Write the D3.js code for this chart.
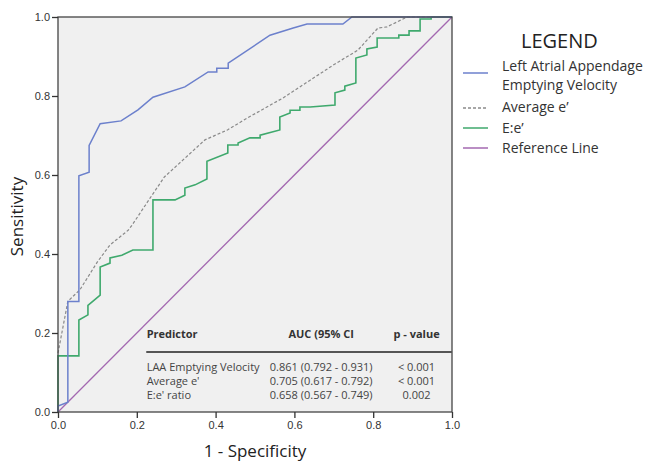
<!DOCTYPE html>
<html>
<head>
<meta charset="utf-8">
<script src="https://cdn.jsdelivr.net/npm/d3@7"></script>
<style>
  body { margin: 0; background: #fff; }
  svg text { font-family: "Open Sans", "Liberation Sans", sans-serif; }
</style>
</head>
<body>
<div id="canvas"></div>
<script>
"use strict";

// ROC points: [1 - specificity, sensitivity]
const laaPoints = [
  [0, 0], [0, 0.015], [0.025, 0.025], [0.025, 0.28], [0.053, 0.28], [0.053, 0.598],
  [0.079, 0.607], [0.079, 0.675], [0.107, 0.73], [0.16, 0.737], [0.203, 0.765],
  [0.241, 0.797], [0.322, 0.823], [0.381, 0.861], [0.403, 0.861], [0.403, 0.87],
  [0.432, 0.87], [0.432, 0.883], [0.538, 0.954], [0.597, 0.972], [0.632, 0.982],
  [0.723, 0.982], [0.746, 1.0], [1, 1]
];
const avgEPoints = [
  [0, 0.149], [0.025, 0.28], [0.056, 0.31], [0.10, 0.38], [0.132, 0.423], [0.178, 0.46],
  [0.188, 0.473], [0.234, 0.542], [0.27, 0.595], [0.373, 0.689], [0.43, 0.714],
  [0.48, 0.744], [0.571, 0.795], [0.64, 0.84], [0.698, 0.878], [0.761, 0.916],
  [0.812, 0.972], [0.835, 0.975], [0.886, 1.0], [1, 1]
];
const eRatioPoints = [
  [0, 0], [0, 0.142], [0.053, 0.142], [0.053, 0.233], [0.076, 0.246], [0.076, 0.27],
  [0.107, 0.296], [0.107, 0.367], [0.132, 0.377], [0.132, 0.39], [0.162, 0.397],
  [0.19, 0.41], [0.241, 0.41], [0.241, 0.537], [0.297, 0.537], [0.322, 0.549],
  [0.322, 0.567], [0.348, 0.575], [0.378, 0.59], [0.378, 0.635], [0.431, 0.656],
  [0.431, 0.676], [0.457, 0.676], [0.457, 0.681], [0.487, 0.694], [0.513, 0.694],
  [0.513, 0.701], [0.563, 0.714], [0.563, 0.747], [0.589, 0.757], [0.589, 0.764],
  [0.614, 0.764], [0.614, 0.772], [0.64, 0.772], [0.703, 0.777], [0.703, 0.808],
  [0.728, 0.815], [0.728, 0.825], [0.756, 0.833], [0.756, 0.896], [0.784, 0.904],
  [0.784, 0.919], [0.81, 0.924], [0.81, 0.947], [0.865, 0.947], [0.865, 0.954],
  [0.891, 0.954], [0.891, 0.965], [0.919, 0.965], [0.919, 0.995], [0.947, 0.995],
  [0.947, 1.0], [1, 1]
];
const refPoints = [[0, 0], [1, 1]];

const axisTicks = [0, 0.2, 0.4, 0.6, 0.8, 1.0];

const legendLabels = [["Left Atrial Appendage", "Emptying Velocity"], ["Average e\u2019"], ["E:e\u2019"], ["Reference Line"]];

const tableHeader = ["Predictor", "AUC (95% CI", "p - value"];
const tablePredictors = ["LAA Emptying Velocity", "Average e'", "E:e' ratio"];
const tableAuc = ["0.861 (0.792 - 0.931)", "0.705 (0.617 - 0.792)", "0.658 (0.567 - 0.749)"];
const tableP = ["< 0.001", "< 0.001", "0.002"];

const width = 647, height = 462;
const margin = { top: 17, right: 195, bottom: 50, left: 58 };
const plotW = width - margin.left - margin.right;
const plotH = height - margin.top - margin.bottom;

const svg = d3.select("#canvas").append("svg")
  .attr("width", width)
  .attr("height", height);

const g = svg.append("g")
  .attr("transform", "translate(" + margin.left + "," + margin.top + ")");

const x = d3.scaleLinear().domain([0, 1]).range([0, plotW]);
const y = d3.scaleLinear().domain([0, 1]).range([plotH, 0]);

// Plot background
g.append("rect")
  .attr("width", plotW)
  .attr("height", plotH)
  .attr("fill", "#f0f0f0");

const line = d3.line().x(d => x(d[0])).y(d => y(d[1]));

const series = [
  { pts: refPoints, color: "#a368b0", dash: null, w: 1.3 },
  { pts: avgEPoints, color: "#8a8a8a", dash: "3,2", w: 1.2 },
  { pts: eRatioPoints, color: "#3fa96d", dash: null, w: 1.6 },
  { pts: laaPoints, color: "#6c80cc", dash: null, w: 1.5 }
];

series.forEach(s => {
  g.append("path")
    .datum(s.pts)
    .attr("d", line)
    .attr("fill", "none")
    .attr("stroke", s.color)
    .attr("stroke-width", s.w)
    .attr("stroke-dasharray", s.dash);
});

// Frame
g.append("rect")
  .attr("width", plotW)
  .attr("height", plotH)
  .attr("fill", "none")
  .attr("stroke", "#444")
  .attr("stroke-width", 1.3);

// Axes
const fmt = d3.format(".1f");
const xAxis = g.append("g")
  .attr("transform", "translate(0," + plotH + ")")
  .call(d3.axisBottom(x).tickValues(axisTicks).tickFormat(fmt).tickSize(6).tickPadding(3));
const yAxis = g.append("g")
  .call(d3.axisLeft(y).tickValues(axisTicks).tickFormat(fmt).tickSize(6).tickPadding(2));

[xAxis, yAxis].forEach(a => {
  a.select(".domain").remove();
  a.selectAll("line").attr("stroke", "#333").attr("stroke-width", 1.3);
  a.selectAll("text")
    .attr("fill", "#333")
    .style("font-size", "11px")
    .style("font-family", "'Liberation Sans', Arial, sans-serif");
});

// Axis titles
svg.append("text")
  .attr("x", margin.left + plotW / 2)
  .attr("y", 457)
  .attr("text-anchor", "middle")
  .attr("fill", "#222")
  .style("font-size", "17px")
  .text("1 - Specificity");

svg.append("text")
  .attr("transform", "translate(23," + (margin.top + plotH / 2 + 2) + ") rotate(-90)")
  .attr("text-anchor", "middle")
  .attr("fill", "#222")
  .style("font-size", "17px")
  .text("Sensitivity");

// Table inside the plot
const colX = [x(0.225), x(0.535), x(0.91)];
g.append("text")
  .attr("x", x(0.225)).attr("y", y(0.188))
  .attr("fill", "#333").style("font-size", "11px").style("font-weight", "bold")
  .text(tableHeader[0]);
g.append("text")
  .attr("x", x(0.668)).attr("y", y(0.188)).attr("text-anchor", "middle")
  .attr("fill", "#333").style("font-size", "11px").style("font-weight", "bold")
  .text(tableHeader[1]);
g.append("text")
  .attr("x", colX[2]).attr("y", y(0.188)).attr("text-anchor", "middle")
  .attr("fill", "#333").style("font-size", "11px").style("font-weight", "bold")
  .text(tableHeader[2]);

g.append("line")
  .attr("x1", x(0.224)).attr("x2", plotW)
  .attr("y1", y(0.152)).attr("y2", y(0.152))
  .attr("stroke", "#555").attr("stroke-width", 2);

tablePredictors.forEach((p, i) => {
  const yy = y(0.105) + i * 14;
  g.append("text").attr("x", x(0.225)).attr("y", yy)
    .attr("fill", "#444").style("font-size", "11px").text(p);
  g.append("text").attr("x", x(0.668)).attr("y", yy).attr("text-anchor", "middle")
    .attr("fill", "#444").style("font-size", "11px").text(tableAuc[i]);
  g.append("text").attr("x", colX[2]).attr("y", yy).attr("text-anchor", "middle")
    .attr("fill", "#444").style("font-size", "11px").text(tableP[i]);
});

// Legend
const legend = svg.append("g");
legend.append("text")
  .attr("x", 521).attr("y", 48)
  .attr("fill", "#222")
  .style("font-size", "20px")
  .text("LEGEND");

const legendRows = [
  { color: "#6c80cc", dash: null, lineY: 73, textY: [71, 90] },
  { color: "#8a8a8a", dash: "3,2", lineY: 108, textY: [112] },
  { color: "#3fa96d", dash: null, lineY: 128, textY: [133] },
  { color: "#a368b0", dash: null, lineY: 148, textY: [153] }
];

legendRows.forEach((r, i) => {
  legend.append("line")
    .attr("x1", 463).attr("x2", 488)
    .attr("y1", r.lineY).attr("y2", r.lineY)
    .attr("stroke", r.color)
    .attr("stroke-width", 1.5)
    .attr("stroke-dasharray", r.dash);
  legendLabels[i].forEach((t, j) => {
    legend.append("text")
      .attr("x", 502).attr("y", r.textY[j])
      .attr("fill", "#333")
      .style("font-size", "14px")
      .text(t);
  });
});
</script>
</body>
</html>
